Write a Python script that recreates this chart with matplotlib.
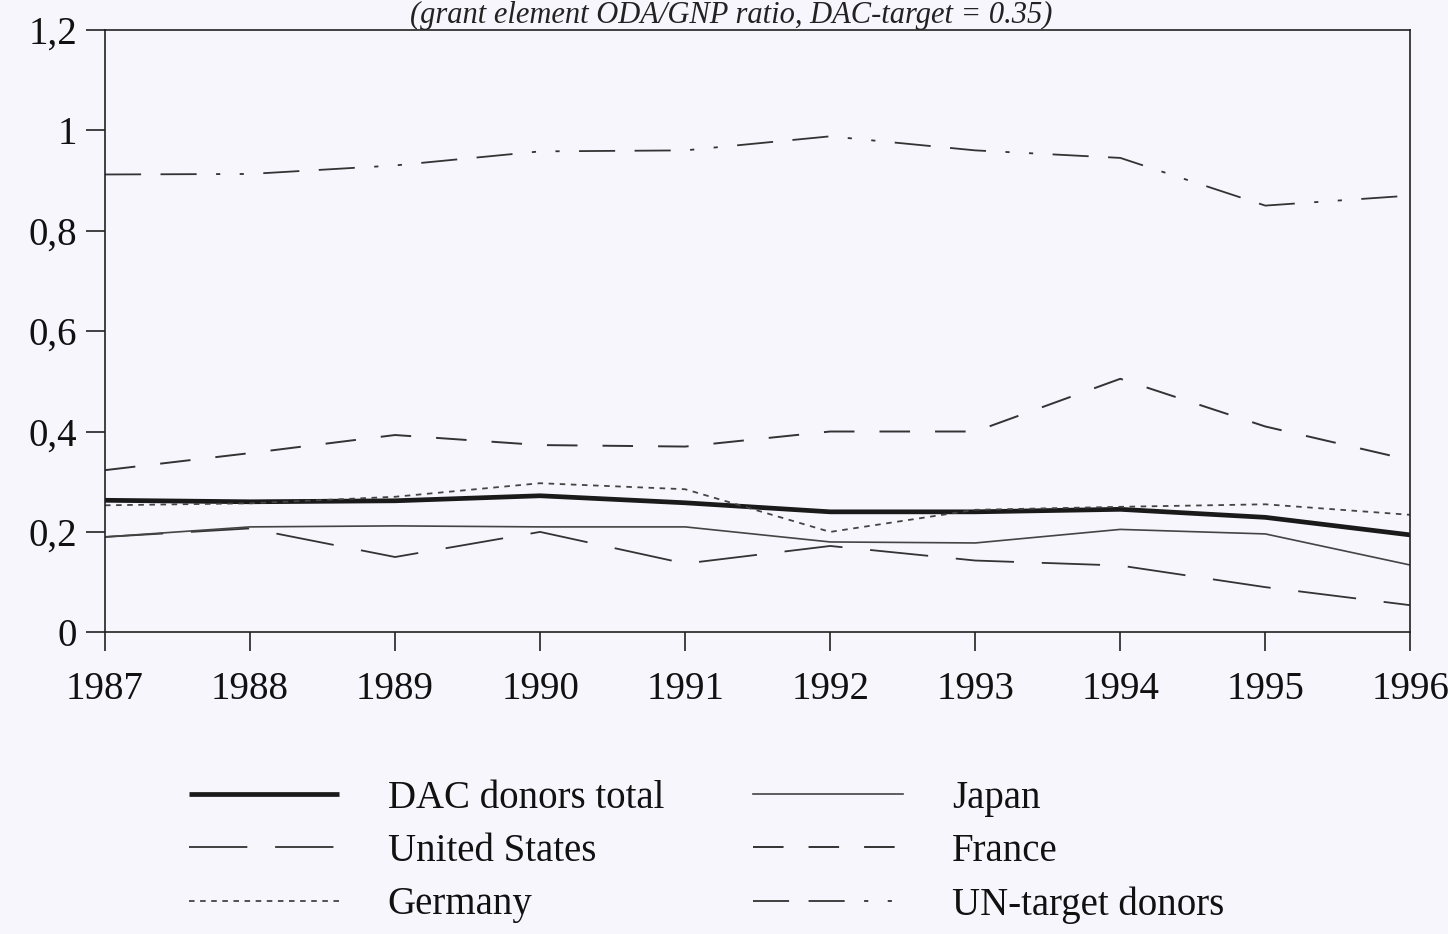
import matplotlib
matplotlib.use("Agg")
import matplotlib.pyplot as plt
from matplotlib.ticker import FuncFormatter

years = [1987, 1988, 1989, 1990, 1991, 1992, 1993, 1994, 1995, 1996]
dac_total = [0.263, 0.26, 0.262, 0.272, 0.258, 0.24, 0.24, 0.245, 0.229, 0.194]
japan = [0.19, 0.21, 0.212, 0.21, 0.21, 0.18, 0.178, 0.205, 0.196, 0.134]
united_states = [0.19, 0.207, 0.15, 0.2, 0.137, 0.172, 0.143, 0.133, 0.09, 0.054]
france = [0.323, 0.357, 0.393, 0.373, 0.37, 0.40, 0.40, 0.505, 0.41, 0.343]
germany = [0.253, 0.257, 0.27, 0.297, 0.285, 0.2, 0.244, 0.25, 0.255, 0.234]
un_target = [0.912, 0.913, 0.93, 0.958, 0.96, 0.988, 0.96, 0.945, 0.85, 0.87]

labels = ["DAC donors total", "United States", "Germany", "Japan", "France", "UN-target donors"]
y_ticks = [0, 0.2, 0.4, 0.6, 0.8, 1.0, 1.2]
title_text = "(grant element ODA/GNP ratio, DAC-target = 0.35)"

plt.rcParams['lines.scale_dashes'] = False
serif = ['Liberation Serif', 'DejaVu Serif']
bg = '#f7f6fd'

fig = plt.figure(figsize=(14.48, 9.34), dpi=100, facecolor=bg)
ax = fig.add_axes([0.0725, 0.323, 0.9015, 0.645], facecolor=bg)

ink = '#1a1a1a'
l_dac, = ax.plot(years, dac_total, color=ink, lw=3.4, solid_capstyle='butt')
l_us, = ax.plot(years, united_states, color='#333333', lw=1.3, dashes=(42, 20))
l_de, = ax.plot(years, germany, color='#444444', lw=1.3, dashes=(4, 4))
l_jp, = ax.plot(years, japan, color='#444444', lw=1.2)
l_fr, = ax.plot(years, france, color='#333333', lw=1.4, dashes=(22, 18))
l_un, = ax.plot(years, un_target, color='#333333', lw=1.3, dashes=(26, 14, 26, 14, 3, 14, 3, 14))

ax.set_xlim(1987, 1996)
ax.set_ylim(0, 1.2)
ax.set_xticks(years)
ax.set_yticks(y_ticks)
ax.yaxis.set_major_formatter(FuncFormatter(lambda v, p: ('%g' % round(v, 1)).replace('.', ',')))
for s in ax.spines.values():
    s.set_linewidth(1.2)
    s.set_color('#222222')
ax.tick_params(axis='both', direction='out', length=14, width=1.2, colors='#222222', labelsize=28)
ax.tick_params(axis='x', pad=14)
ax.tick_params(axis='y', pad=6)
for t in ax.get_xticklabels() + ax.get_yticklabels():
    t.set_fontfamily(serif)
    t.set_color('#111111')

fig.text(0.505, 0.999, title_text, ha='center', va='top', fontsize=22, style='italic',
         family=serif, color='#222222')

handles = [l_dac, l_us, l_de, l_jp, l_fr, l_un]
leg = fig.legend(handles, labels, ncol=2, loc='upper left', bbox_to_anchor=(0.120, 0.182),
                 frameon=False, prop={'family': serif, 'size': 28},
                 handlelength=3.85, handletextpad=1.25, columnspacing=2.3, labelspacing=0.42,
                 borderaxespad=0)
for t in leg.get_texts():
    t.set_color('#111111')

fig.savefig('out.png', dpi=100, facecolor=bg)
